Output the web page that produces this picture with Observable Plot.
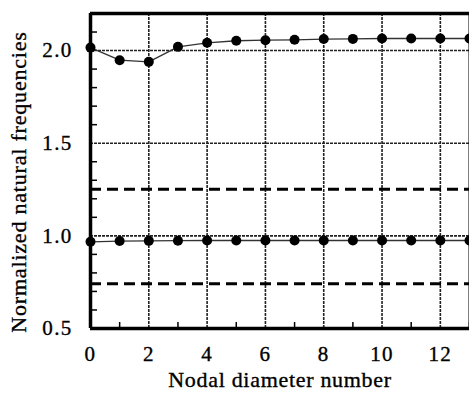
<!DOCTYPE html>
<html>
<head>
<meta charset="utf-8">
<script src="https://cdn.jsdelivr.net/npm/d3@7"></script>
<script src="https://cdn.jsdelivr.net/npm/@observablehq/plot@0.6"></script>
<style>
  html, body { margin: 0; padding: 0; background: #fff; }
  svg { display: block; }
  svg text { stroke: #000; stroke-width: 0.35px; }
  g[aria-label="y-axis tick label"], g[aria-label="x-axis tick label"] { font-size: 21px; letter-spacing: 1.3px; }
  g.xtitle text { letter-spacing: 0.7px; }
  g.ytitle text { letter-spacing: 0.8px; }
</style>
</head>
<body>
<div id="chart"></div>
<script>
const nodalDiameters = [0,1,2,3,4,5,6,7,8,9,10,11,12,13];
const upperMode = [2.016,1.948,1.939,2.02,2.042,2.053,2.056,2.058,2.062,2.063,2.065,2.065,2.065,2.065];
const lowerMode = [0.968,0.972,0.973,0.974,0.975,0.975,0.975,0.975,0.975,0.975,0.975,0.975,0.975,0.975];
const dashedLevels = [1.252, 0.742];
const xGrid = [2,4,6,8,10,12];
const yGrid = [1.0,1.5,2.0];
const xTickLabels = [0,2,4,6,8,10,12];
const xMinorTicks = [1,3,5,7,9,11,13];
const yTickLabels = [0.5,1.0,1.5,2.0];
const yMinorTicks = [0.6,0.7,0.8,0.9,1.1,1.2,1.3,1.4,1.6,1.7,1.8,1.9,2.1];
const xTitle = "Nodal diameter number";
const yTitle = "Normalized natural frequencies";

const upper = nodalDiameters.map((d,i) => ({x: d, y: upperMode[i]}));
const lower = nodalDiameters.map((d,i) => ({x: d, y: lowerMode[i]}));

const chart = Plot.plot({
  width: 469,
  height: 398,
  marginLeft: 90,
  marginTop: 13,
  marginBottom: 70,
  marginRight: 0,
  style: {fontFamily: "'Liberation Serif', 'Times New Roman', serif", fontSize: "20px", color: "#000", background: "#fff"},
  x: {domain: [0, 13], label: null},
  y: {domain: [0.5, 2.2], label: null},
  marks: [
    Plot.ruleX(xGrid, {stroke: "#222", strokeWidth: 1.6, strokeDasharray: "3,1"}),
    Plot.ruleY(yGrid, {stroke: "#222", strokeWidth: 1.6, strokeDasharray: "3,1"}),
    Plot.ruleY(dashedLevels, {stroke: "#000", strokeWidth: 3, strokeDasharray: "11,6"}),
    Plot.line(upper, {x: "x", y: "y", stroke: "#333", strokeWidth: 1.3}),
    Plot.line(lower, {x: "x", y: "y", stroke: "#333", strokeWidth: 1.3}),
    Plot.dot(upper, {x: "x", y: "y", r: 5, fill: "#000", stroke: "none"}),
    Plot.dot(lower, {x: "x", y: "y", r: 5, fill: "#000", stroke: "none"}),
    Plot.axisY(yMinorTicks, {tickSize: -7, tickFormat: () => "", label: null, stroke: "#000", strokeWidth: 1.5}),
    Plot.axisX(xMinorTicks, {tickSize: -6, tickFormat: () => "", label: null, stroke: "#000", strokeWidth: 1.5}),
    Plot.axisY(yTickLabels, {tickSize: 0, tickPadding: 18, tickFormat: d3.format(".1f"), label: null}),
    Plot.axisX(xTickLabels, {tickSize: 0, tickPadding: 18, tickFormat: d => String(d), label: null}),
    Plot.ruleX([0], {stroke: "#000", strokeWidth: 3.5}),
    Plot.ruleX([13], {stroke: "#000", strokeWidth: 2}),
    Plot.ruleY([0.5], {stroke: "#000", strokeWidth: 3.5}),
    Plot.ruleY([2.2], {stroke: "#000", strokeWidth: 3.5}),
    Plot.text([xTitle], {frameAnchor: "bottom", dy: 58, fontSize: 22, fill: "#000", className: "xtitle"}),
    Plot.text([yTitle], {frameAnchor: "left", textAnchor: "middle", dx: -72, dy: 11, rotate: -90, fontSize: 22, fill: "#000", className: "ytitle"})
  ]
});
document.getElementById("chart").appendChild(chart);
</script>
</body>
</html>
